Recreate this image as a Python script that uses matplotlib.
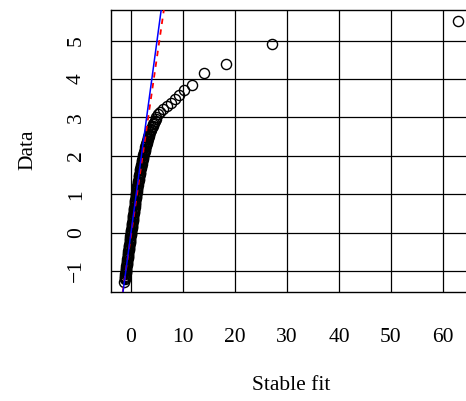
import matplotlib
matplotlib.use("Agg")
import matplotlib.pyplot as plt

plt.rcParams['font.family'] = ['Liberation Serif', 'DejaVu Serif']

# Sorted sample (Data, y) against fitted stable quantiles (Stable fit, x)
data_bulk = [-1.29, -1.21, -1.18, -1.15, -1.12, -1.09, -1.06, -1.03, -1.00, -0.97, -0.94, -0.91,
             -0.88, -0.85, -0.82, -0.79, -0.76, -0.73, -0.70, -0.67, -0.64, -0.61, -0.58, -0.55,
             -0.52, -0.49, -0.46, -0.43, -0.40, -0.37, -0.34, -0.31, -0.28, -0.25, -0.22, -0.19,
             -0.16, -0.13, -0.10, -0.07, -0.04, -0.01, 0.02, 0.05, 0.08, 0.11, 0.14, 0.17, 0.20,
             0.23, 0.26, 0.29, 0.32, 0.35, 0.38, 0.41, 0.44, 0.47, 0.50, 0.53, 0.56, 0.59, 0.62,
             0.65, 0.68, 0.71, 0.74, 0.77, 0.80, 0.83, 0.86, 0.89, 0.92, 0.95, 0.98, 1.01, 1.04,
             1.07, 1.10, 1.13, 1.16, 1.19, 1.22, 1.25, 1.28]
fit_bulk = [-1.29, -1.22, -1.18, -1.15, -1.12, -1.09, -1.06, -1.03, -1.00, -0.97, -0.94, -0.91,
            -0.88, -0.85, -0.82, -0.79, -0.76, -0.73, -0.70, -0.67, -0.64, -0.61, -0.58, -0.55,
            -0.52, -0.49, -0.46, -0.43, -0.40, -0.37, -0.34, -0.31, -0.28, -0.25, -0.22, -0.19,
            -0.16, -0.13, -0.10, -0.07, -0.04, -0.01, 0.02, 0.05, 0.08, 0.11, 0.14, 0.17, 0.20,
            0.23, 0.26, 0.29, 0.32, 0.35, 0.38, 0.41, 0.44, 0.47, 0.50, 0.53, 0.56, 0.59, 0.62,
            0.65, 0.68, 0.71, 0.74, 0.77, 0.80, 0.83, 0.86, 0.89, 0.92, 0.95, 0.98, 1.01, 1.04,
            1.07, 1.10, 1.14, 1.17, 1.20, 1.24, 1.27, 1.31]

data_bend = [1.32, 1.35, 1.38, 1.41, 1.44, 1.47, 1.50, 1.53, 1.56, 1.59, 1.62, 1.65, 1.68, 1.71,
             1.74, 1.77, 1.80, 1.83, 1.86, 1.89, 1.92, 1.95, 1.98, 2.01, 2.04, 2.07, 2.10, 2.13,
             2.16, 2.19, 2.22, 2.25, 2.28, 2.31, 2.34, 2.37, 2.40, 2.43, 2.46, 2.49, 2.52, 2.55,
             2.58, 2.61, 2.64, 2.67, 2.70, 2.74, 2.78, 2.82, 2.86, 2.90, 2.95]
fit_bend = [1.36, 1.40, 1.44, 1.48, 1.52, 1.56, 1.60, 1.64, 1.69, 1.73, 1.78, 1.82, 1.87, 1.92,
            1.96, 2.01, 2.06, 2.10, 2.15, 2.20, 2.25, 2.30, 2.35, 2.40, 2.45, 2.50, 2.56, 2.61,
            2.66, 2.72, 2.77, 2.83, 2.88, 2.94, 3.00, 3.06, 3.12, 3.19, 3.26, 3.33, 3.40, 3.47,
            3.55, 3.63, 3.72, 3.81, 3.90, 4.02, 4.14, 4.27, 4.41, 4.56, 4.74]

data_tail = [3.02, 3.08, 3.13, 3.22, 3.30, 3.39, 3.48, 3.59, 3.71, 3.85, 4.17, 4.39, 4.91, 5.52]
fit_tail = [4.90, 5.25, 5.60, 6.20, 6.90, 7.60, 8.50, 9.20, 10.2, 11.8, 14.1, 18.3, 27.05, 62.9]

# Reference lines: identity (blue) and fitted line (red dashed)
identity_line = (0.0, 1.0)        # intercept, slope
fitted_line = (-0.07, 0.93)      # intercept, slope

x_ticks = [0, 10, 20, 30, 40, 50, 60]
y_ticks = [-1, 0, 1, 2, 3, 4, 5]

fig = plt.figure(figsize=(4.66, 4.01), dpi=100)
ax = fig.add_axes([111/466, 109/401, 361/466, 282/401])

xs = fit_bulk + fit_bend + fit_tail
ys = data_bulk + data_bend + data_tail

ax.set_xlim(-3.85, 65.58)
ax.set_ylim(-1.547, 5.80)

for t in x_ticks:
    ax.axvline(t, color='black', lw=0.9, zorder=1)
for t in y_ticks:
    ax.axhline(t, color='black', lw=0.9, zorder=1)

ax.plot(xs, ys, linestyle='none', marker='o', markersize=7.3, markerfacecolor='none',
        markeredgecolor='black', markeredgewidth=1.0, zorder=2)

ax.axline((0, fitted_line[0]), slope=fitted_line[1], color='red', lw=1.3,
          dashes=(3, 3), zorder=3)
ax.axline((0, identity_line[0]), slope=identity_line[1], color='blue', lw=1.1, zorder=4)

ax.set_xticks(x_ticks)
ax.set_yticks(y_ticks)
ax.set_yticklabels(['\u22121' if v < 0 else str(v) for v in y_ticks])
ax.tick_params(axis='both', length=0, labelsize=15.5)
ax.tick_params(axis='x', pad=26)
ax.tick_params(axis='y', pad=18, labelrotation=90)
for lab in ax.get_yticklabels():
    lab.set_verticalalignment('center')

for s in ax.spines.values():
    s.set_linewidth(1.0)

fig.text(291.5/466, 1 - 386/401, 'Stable fit', ha='center', va='center', fontsize=15.5)
fig.text(28/466, 1 - 150/401, 'Data', ha='center', va='center', rotation=90, fontsize=15.5)

fig.savefig('out.png', dpi=100)
